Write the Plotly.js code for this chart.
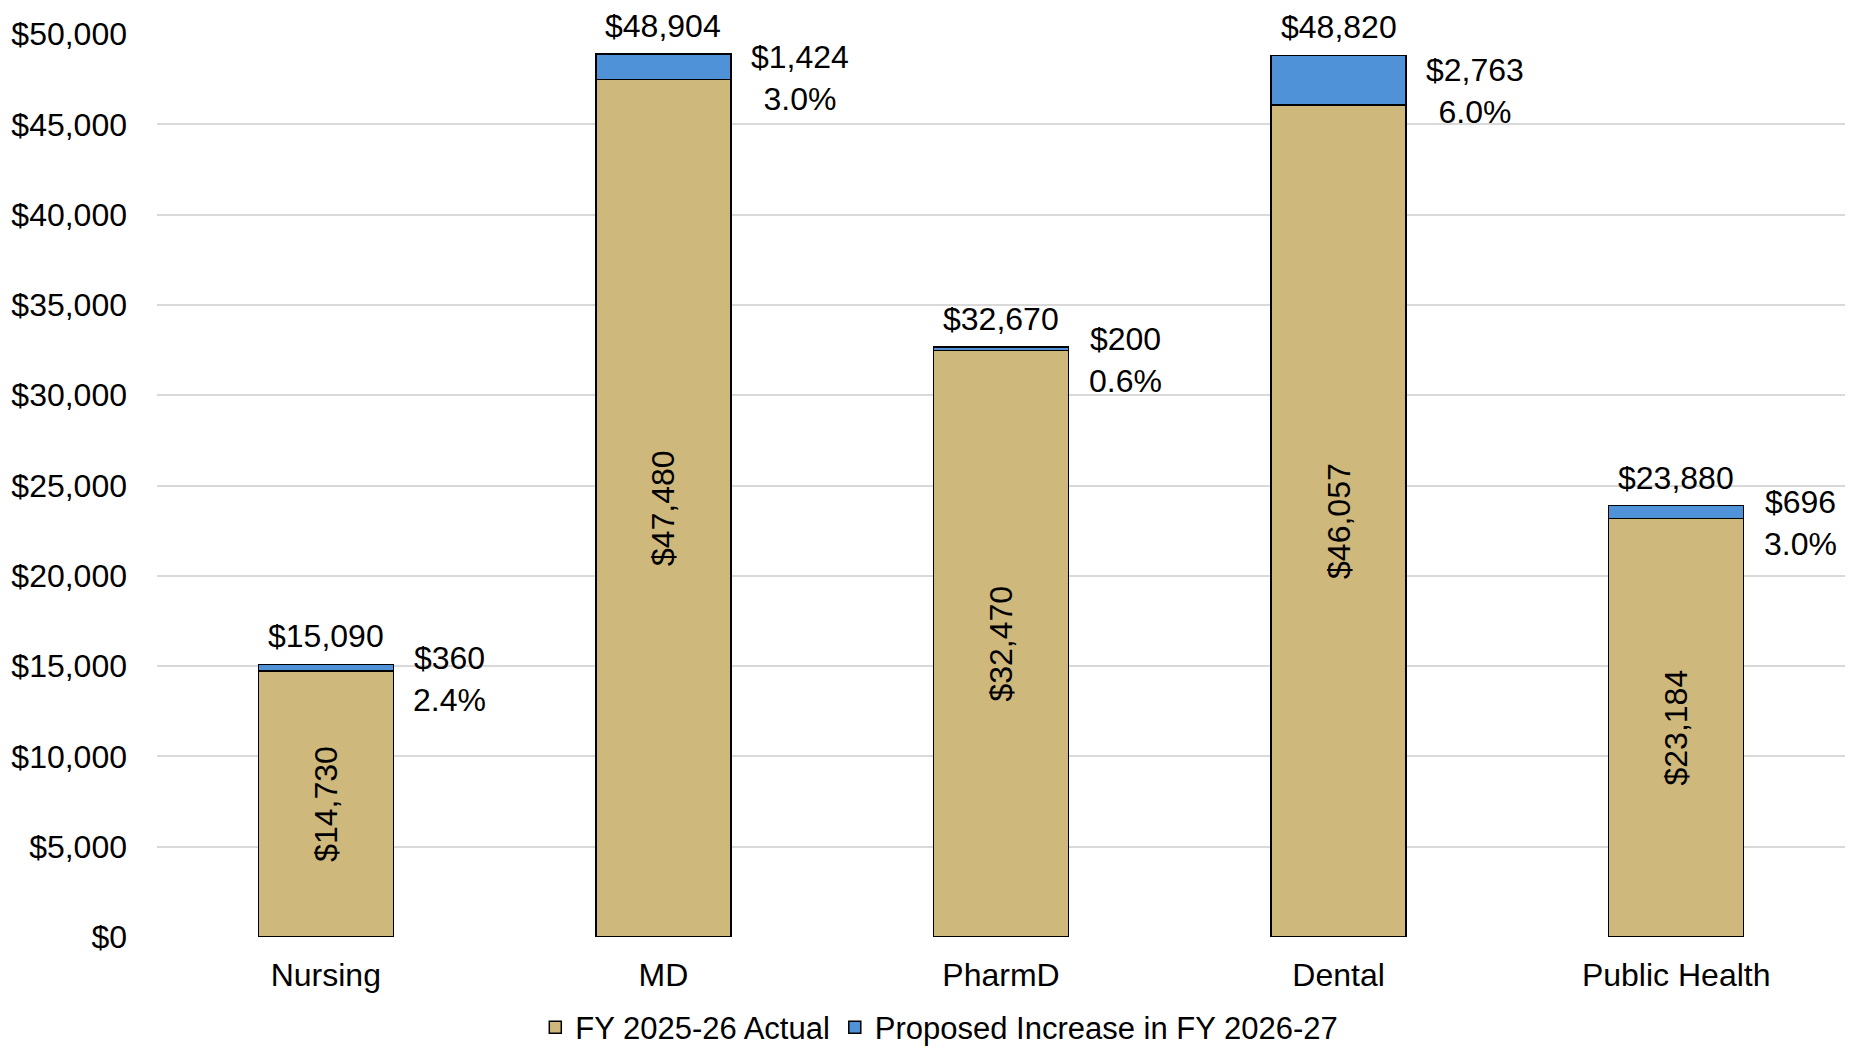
<!DOCTYPE html>
<html>
<head>
<meta charset="utf-8">
<script src="https://cdn.plot.ly/plotly-3.0.1.min.js"></script>
<style>html,body{margin:0;padding:0;background:#fff;}#chart{width:1849px;height:1055px;}</style>
</head>
<body>
<div id="chart"></div>
<script>
const categories = ["Nursing", "MD", "PharmD", "Dental", "Public Health"];
const actual = [14730, 47480, 32470, 46057, 23184];
const increase = [360, 1424, 200, 2763, 696];
const totals = [15090, 48904, 32670, 48820, 23880];
const increasePct = ["2.4%", "3.0%", "0.6%", "6.0%", "3.0%"];
const yTickVals = [0, 5000, 10000, 15000, 20000, 25000, 30000, 35000, 40000, 45000, 50000];
const yTickText = ["$0", "$5,000", "$10,000", "$15,000", "$20,000", "$25,000", "$30,000", "$35,000", "$40,000", "$45,000", "$50,000"];

const fmt = v => "$" + v.toLocaleString("en-US");
const FONT = "Liberation Sans, Arial, sans-serif";

const traces = [
  {
    type: "bar", name: "FY 2025-26 Actual", x: categories, y: actual,
    marker: {color: "#CFB87C", line: {color: "#000", width: 1.5}},
    text: actual.map(fmt), textposition: "inside", textangle: -90,
    insidetextanchor: "middle", constraintext: "none",
    insidetextfont: {family: FONT, size: 32, color: "#000"},
    hoverinfo: "x+y"
  },
  {
    type: "bar", name: "Proposed Increase in FY 2026-27", x: categories, y: increase,
    marker: {color: "#4F92D8", line: {color: "#000", width: 1.5}},
    textposition: "none", hoverinfo: "x+y"
  }
];

const annotations = [];
categories.forEach((c, i) => {
  annotations.push({
    x: i, y: totals[i], xref: "x", yref: "y", text: fmt(totals[i]),
    showarrow: false, yanchor: "bottom", yshift: 8,
    font: {family: FONT, size: 32, color: "#000"}
  });
  annotations.push({
    x: i + 0.2, y: actual[i] + increase[i] / 2, xref: "x", yref: "y",
    text: fmt(increase[i]) + "<br>" + increasePct[i],
    showarrow: false, xanchor: "left", yanchor: "middle", align: "center",
    xshift: 18, yshift: -11,
    font: {family: FONT, size: 32, color: "#000"}
  });
});

const layout = {
  width: 1849, height: 1055,
  paper_bgcolor: "#fff", plot_bgcolor: "#fff",
  margin: {l: 157, r: 4, t: 34, b: 118, autoexpand: false},
  barmode: "stack", bargap: 0.6,
  font: {family: FONT, size: 32, color: "#000"},
  xaxis: {
    showgrid: false, zeroline: false, showline: false, ticks: "",
    ticklabelstandoff: 16,
    tickfont: {family: FONT, size: 32, color: "#000"}
  },
  yaxis: {
    range: [0, 50000], tickvals: yTickVals, ticktext: yTickText,
    showgrid: true, gridcolor: "#d9d9d9", gridwidth: 2,
    zeroline: false, showline: false, ticks: "",
    ticklabelstandoff: 29,
    tickfont: {family: FONT, size: 32, color: "#000"}
  },
  showlegend: true,
  legend: {
    orientation: "h", xref: "container", x: 0.508, xanchor: "center",
    yref: "container", y: 0.026, yanchor: "middle",
    font: {family: FONT, size: 31, color: "#000"}, traceorder: "normal"
  },
  annotations: annotations
};

Plotly.newPlot("chart", traces, layout, {displayModeBar: false, staticPlot: true});
</script>
</body>
</html>
